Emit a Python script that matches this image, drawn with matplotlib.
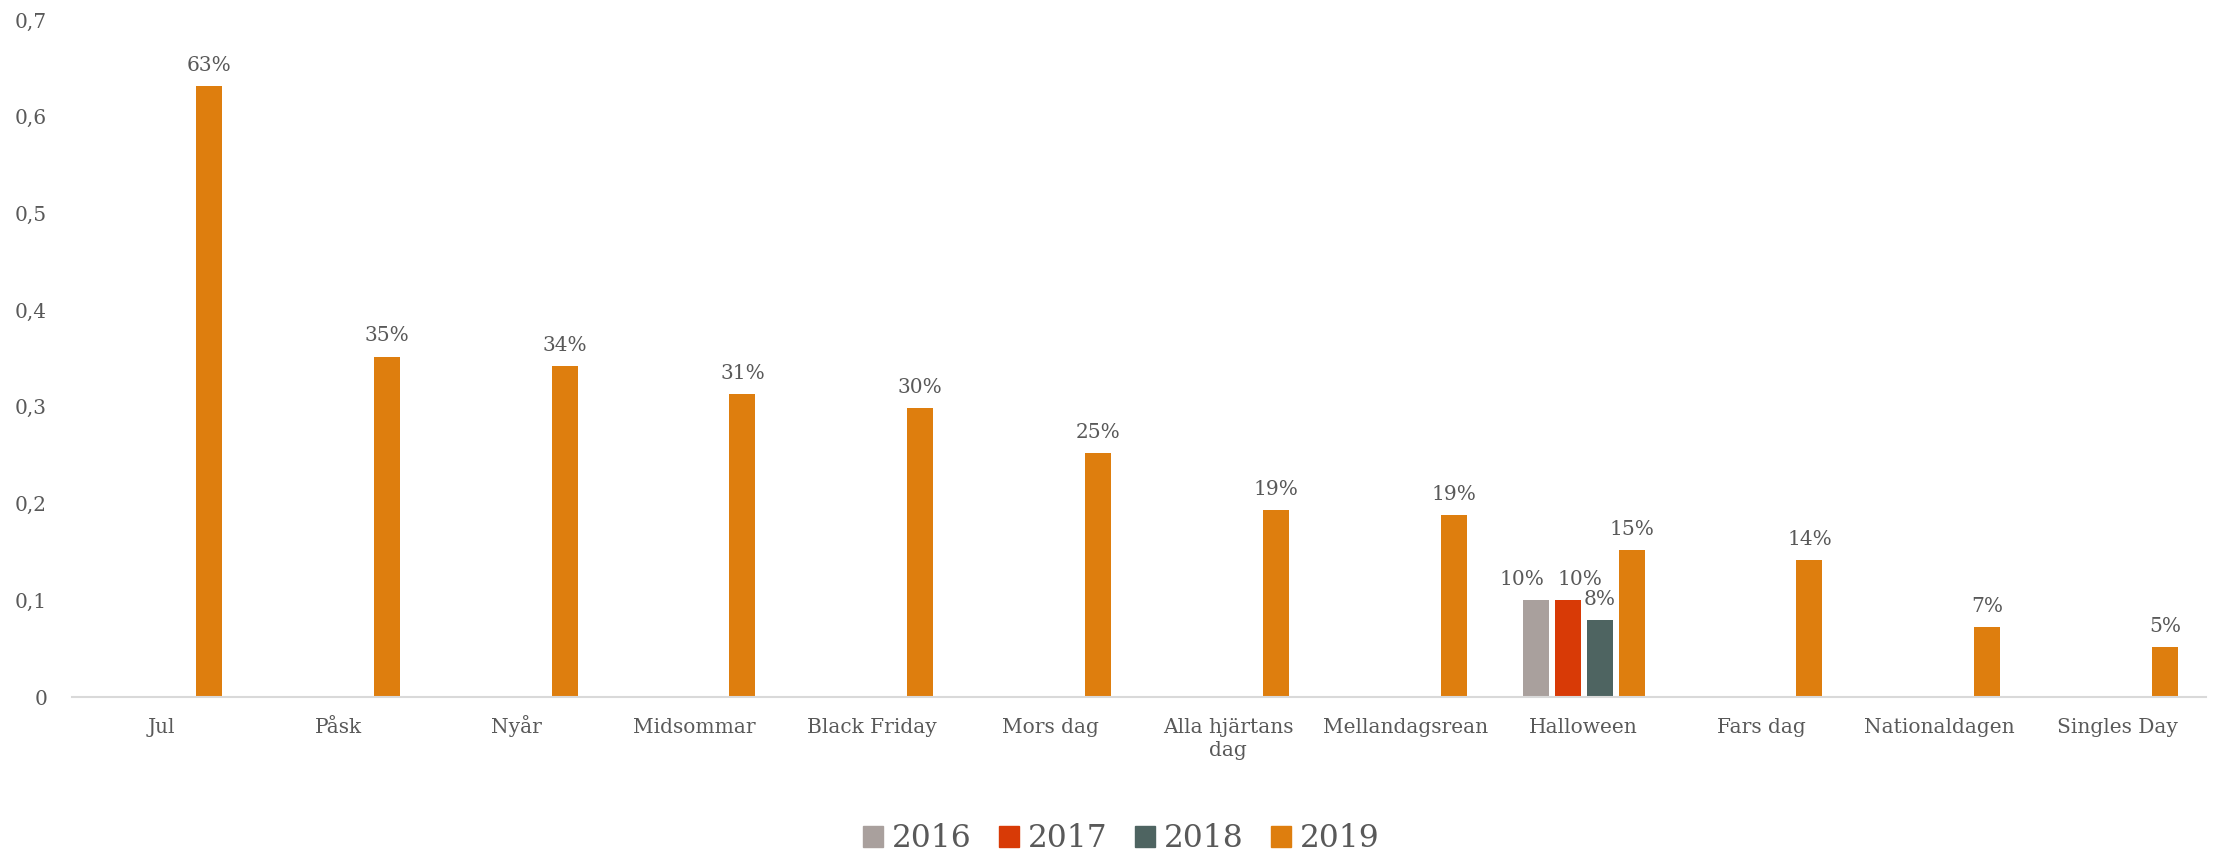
import numpy as np
import matplotlib
matplotlib.use('Agg')
import matplotlib.pyplot as plt
from matplotlib.patches import Patch

# Data
categories = ['Jul', 'Påsk', 'Nyår', 'Midsommar', 'Black Friday', 'Mors dag',
              'Alla hjärtans\ndag', 'Mellandagsrean', 'Halloween', 'Fars dag',
              'Nationaldagen', 'Singles Day']
years = ['2016', '2017', '2018', '2019']
v2016 = [None, None, None, None, None, None, None, None, 0.10, None, None, None]
v2017 = [None, None, None, None, None, None, None, None, 0.10, None, None, None]
v2018 = [None, None, None, None, None, None, None, None, 0.08, None, None, None]
v2019 = [0.632, 0.352, 0.342, 0.313, 0.299, 0.252, 0.193, 0.188, 0.152, 0.142, 0.072, 0.052]
yticks = [0, 0.1, 0.2, 0.3, 0.4, 0.5, 0.6, 0.7]

colors = ['#A9A09D', '#D83A06', '#4E6461', '#DE7E0E']
text_col = '#595959'
font = 'DejaVu Serif'

fig = plt.figure(figsize=(22.16, 8.56), dpi=100)
ax = fig.add_axes([0.0325, 0.1857, 0.963, 0.791])

x = np.arange(len(categories))
step = 0.18
width = 0.146
series = [v2016, v2017, v2018, v2019]
# label nudges (points) so the crowded Halloween labels don't collide
nudge = {0: -10, 1: 9}
for i, vals in enumerate(series):
    offs = (i - 1.5) * step
    for j, v in enumerate(vals):
        if v is None:
            continue
        ax.bar(x[j] + offs, v, width=width, color=colors[i])
        ax.annotate(f'{round(v * 100):.0f}%', (x[j] + offs, v), xytext=(nudge.get(i, 0), 8),
                    textcoords='offset points', ha='center', va='bottom',
                    fontsize=14.5, color=text_col, family=font)

ax.set_xlim(-0.5, len(categories) - 0.5)
ax.set_ylim(0, 0.7)
ax.set_yticks(yticks)
ax.set_yticklabels(['0' if t == 0 else f'{t:.1f}'.replace('.', ',') for t in yticks])
ax.set_xticks(x)
ax.set_xticklabels(categories)
for lab in ax.get_xticklabels() + ax.get_yticklabels():
    lab.set_family(font)
    lab.set_fontsize(14.5)
    lab.set_color(text_col)
ax.tick_params(axis='both', length=0)
ax.tick_params(axis='x', pad=26)
ax.tick_params(axis='y', pad=18)
# single-line names sit on a common baseline (so "Nyår" isn't pushed down);
# the wrapped one hangs from the top instead
for tick, lab in zip(ax.xaxis.get_major_ticks(), ax.get_xticklabels()):
    if '\n' in lab.get_text():
        lab.set_va('top')
        lab.set_linespacing(1.3)
        tick.set_pad(15)
    else:
        lab.set_va('baseline')
for s in ['top', 'right', 'left']:
    ax.spines[s].set_visible(False)
ax.spines['bottom'].set_color('#D9D9D9')
ax.spines['bottom'].set_linewidth(1.5)

handles = [Patch(color=c, label=y) for c, y in zip(colors, years)]
fig.legend(handles=handles, loc='center', bbox_to_anchor=(0.506, 0.02), ncol=4,
           frameon=False, prop={'family': font, 'size': 22.5}, labelcolor=text_col,
           handlelength=0.65, handleheight=0.65, handletextpad=0.3, columnspacing=0.85)

fig.savefig('out.png', dpi=100)
